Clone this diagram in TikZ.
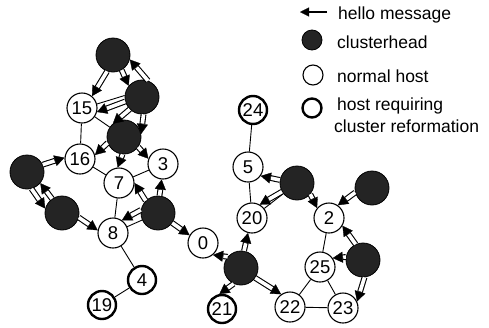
\documentclass[tikz,border=0pt]{standalone}
\usepackage{fontspec}
\setmainfont{Liberation Sans}
\usetikzlibrary{arrows.meta,backgrounds}
\begin{document}
\begin{tikzpicture}[x=1pt,y=-1pt,
  host/.style={circle, draw=black, line width=1.1pt, fill=white, minimum size=30pt,
    inner sep=0pt, font=\fontsize{18.5}{20}\selectfont},
  reform/.style={host, line width=2.4pt, minimum size=28pt},
  chead/.style={circle, draw=black, line width=0.8pt, fill=black!86, minimum size=34pt, inner sep=0pt},
  link/.style={line width=0.9pt},
  hello/.style={line width=5.8pt, -{Triangle[length=10pt,width=11pt,line width=0.3pt]},
    postaction={draw=white, line width=3.6pt, -, shorten >=10.5pt}},
  legtext/.style={anchor=base west, inner sep=0pt, font=\fontsize{17.5}{19}\selectfont},
]
\useasboundingbox (0,0) rectangle (489,327);

% clusterheads
\node[chead] (chA) at (113,55) {};
\node[chead] (chB) at (142,97) {};
\node[chead] (chC) at (124,137) {};
\node[chead] (chD) at (27,172) {};
\node[chead] (chE) at (62,213) {};
\node[chead] (chF) at (158,213) {};
\node[chead] (chG) at (241,268) {};
\node[chead] (chH) at (297,183) {};
\node[chead] (chI) at (372,188) {};
\node[chead] (chJ) at (363,260) {};

% ordinary hosts
\node[host] (h15) at (82,108) {15};
\node[host] (h16) at (80,159) {16};
\node[host] (h3) at (163,164) {3};
\node[host] (h7) at (119,183) {7};
\node[host] (h8) at (113,233) {8};
\node[host] (h0) at (203,243) {0};
\node[host] (h5) at (248,167) {5};
\node[host] (h20) at (252,218) {20};
\node[host] (h2) at (329,218) {2};
\node[host] (h25) at (320,267) {25};
\node[host] (h22) at (290,307) {22};
\node[host] (h23) at (343,308) {23};

% hosts that need cluster reformation
\node[reform] (h4) at (142,280) {4};
\node[reform] (h19) at (102,305) {19};
\node[reform] (h21) at (222,309) {21};
\node[reform] (h24) at (253,110) {24};

% plain links
\begin{scope}[on background layer]
\draw[link] (h15.15) -- (chB.175);
\draw[link] (h15) -- (h16);
\draw[link] (h15) -- (chC);
\draw[link] (h16) -- (h7);
\draw[link] (h7) -- (h3);
\draw[link] (h7) -- (h8);
\draw[link] (h8) -- (chF);
\draw[link] (h8) -- (h4);
\draw[link] (h4) -- (h19);
\draw[link] (h5) -- (h24);
\draw[link] (h5) -- (h20);
\draw[link] (h20) -- (chH);
\draw[link] (h2) -- (h25);
\draw[link] (h25) -- (h22);
\draw[link] (h25) -- (h23);
\draw[link] (h22) -- (h23);
\end{scope}

% hello messages
\draw[hello] (chA.-110) -- (h15.50);
\draw[hello] (chA.-60) -- (chB.140);
\draw[hello] (chB.70) -- (chA.-15);
\draw[hello] (chB.195) -- (h15.-15);
\draw[hello] (chB.225) -- (chC.130);
\draw[hello] (chB.-85) -- (chC.10);
\draw[hello] (chC.200) -- (h16.15);
\draw[hello] (chC.-95) -- (h7.95);
\draw[hello] (chC.-35) -- (h3.160);
\draw[hello] (chF.135) -- (h7.0);
\draw[hello] (chF.85) -- (h3.-95);
\draw[hello] (chF.170) -- (h8.55);
\draw[hello] (chF.-35) -- (h0.150);
\draw[hello] (chG.140) -- (h0.-50);
\draw[hello] (chG.80) -- (h20.-105);
\draw[hello] (chG.245) -- (h21.100);
\draw[hello] (chG.-35) -- (h22.125);
\draw[hello] (chH.170) -- (h5.-35);
\draw[hello] (chH.210) -- (h20.60);
\draw[hello] (chH.-40) -- (h2.140);
\draw[hello] (chI.195) -- (h2.55);
\draw[hello] (chJ.115) -- (h2.-30);
\draw[hello] (chJ.170) -- (h25.35);
\draw[hello] (chJ.-85) -- (h23.25);
\draw[hello] (chD.25) -- (h16.175);
\draw[hello] (chE.125) -- (chD.-40);
\draw[hello] (chD.-75) -- (chE.165);
\draw[hello] (chE.-15) -- (h8.170);

% legend
\coordinate (lgA) at (327,12);
\coordinate (lgB) at (300,12);
\draw[line width=1.6pt, -{Triangle[length=9pt,width=9pt,line width=0.3pt]}] (lgA) -- (lgB);
\node[legtext] (lt1) at (338,19) {hello message};
\node[chead, minimum size=20pt] (lc2) at (312,40) {};
\node[legtext] (lt2) at (337,48) {clusterhead};
\node[host, minimum size=20pt] (lc3) at (313,75) {};
\node[legtext] (lt3) at (337,82) {normal host};
\node[reform, minimum size=19pt] (lc4) at (312,108) {};
\node[legtext] (lt4) at (337,110) {host requiring};
\node[legtext] (lt5) at (334,132) {cluster reformation};
\end{tikzpicture}
\end{document}
